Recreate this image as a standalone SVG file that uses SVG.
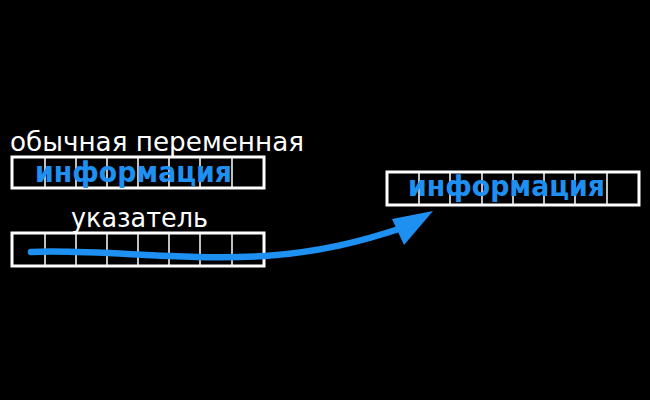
<svg xmlns="http://www.w3.org/2000/svg" width="650" height="400" viewBox="0 0 650 400">
<defs>
<style>
.box{fill:none;stroke:#fff;stroke-width:3}
.div{stroke:#fff;stroke-width:1.5}
.lbl{fill:#fff;font-family:"DejaVu Sans",sans-serif;font-size:27px}
.info{fill:#1e90f2;font-family:"DejaVu Sans",sans-serif;font-weight:bold;font-size:28px}
.arrow{fill:none;stroke:#1e90f2;stroke-width:6.5;stroke-linecap:round}
</style>
</defs>
<rect width="650" height="400" fill="#000"/>
<g id="var">
<text class="lbl" x="10" y="151" textLength="294" lengthAdjust="spacingAndGlyphs">обычная переменная</text>
<rect class="box" x="12" y="157" width="252" height="31"/>
<path class="div" d="M45,157V188M76,157V188M107,157V188M138,157V188M169,157V188M200,157V188M232,157V188"/>
<text class="info" x="35" y="182" textLength="197" lengthAdjust="spacingAndGlyphs">информация</text>
</g>
<g id="pointer">
<text class="lbl" x="71" y="227" textLength="137" lengthAdjust="spacingAndGlyphs">указатель</text>
<rect class="box" x="12" y="233" width="252" height="33"/>
<path class="div" d="M45,233V266M76,233V266M107,233V266M138,233V266M169,233V266M200,233V266M232,233V266"/>
</g>
<g id="target">
<rect class="box" x="387" y="172" width="252" height="33"/>
<path class="div" d="M419,172V205M450,172V205M482,172V205M513,172V205M544,172V205M575,172V205M607,172V205"/>
<text class="info" x="408" y="196" textLength="197" lengthAdjust="spacingAndGlyphs">информация</text>
</g>
<g id="connectors">
<path class="arrow" d="M31,252 C100,249 180,261 265,256 C320,252 360,242 405,227"/>
<polygon points="433,211 392,219 404,245" fill="#1e90f2"/>
</g>
</svg>
